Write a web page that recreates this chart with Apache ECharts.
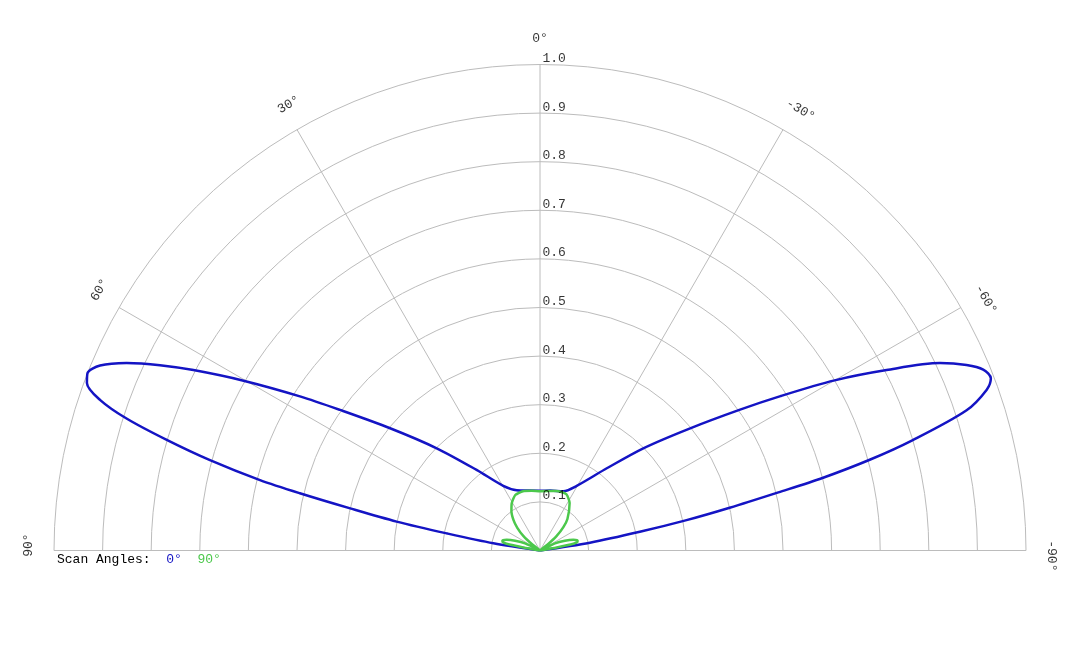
<!DOCTYPE html>
<html><head><meta charset="utf-8">
<script src="https://cdn.jsdelivr.net/npm/echarts@6/dist/echarts.min.js"></script>
<style>html,body{margin:0;padding:0;background:#fff}#c{width:1080px;height:648px}</style>
</head><body><div id="c"></div>
<script>
// Radial grid ticks
const radialTicks = [0.1, 0.2, 0.3, 0.4, 0.5, 0.6, 0.7, 0.8, 0.9, 1.0];
const radialTickLabels = ['0.1', '0.2', '0.3', '0.4', '0.5', '0.6', '0.7', '0.8', '0.9', '1.0'];
// Angular ticks (degrees, positive to the left)
const angleTicks = [90, 60, 30, 0, -30, -60, -90];
const angleTickLabels = ['90°', '60°', '30°', '0°', '-30°', '-60°', '-90°'];

// Scan angle 0° (blue)
const scan0Angles = [-83, -81.1, -79.4, -78.3, -77.3, -76.3, -75.6, -74.6, -73.5, -71.8, -70.2, -69.1, -67.8, -66.5, -64.9, -62.5, -60.0, -57.3, -54.8, -50.8, -45.3, -39.1, -29.6, -21.4, -9.5, 0, 9.5, 21.1, 29.6, 38.2, 45.3, 50.8, 54.9, 57.3, 60.2, 62.5, 64.0, 65.6, 67.2, 68.6, 69.7, 71.1, 72.3, 73.5, 74.7, 75.9, 76.6, 77.5, 78.6, 79.6, 81.2, 83];
const scan0Values = [0, 0.104, 0.209, 0.308, 0.400, 0.505, 0.600, 0.705, 0.800, 0.924, 0.977, 0.993, 0.985, 0.957, 0.909, 0.804, 0.700, 0.588, 0.502, 0.397, 0.299, 0.218, 0.153, 0.131, 0.125, 0.123, 0.125, 0.133, 0.153, 0.211, 0.299, 0.398, 0.503, 0.587, 0.703, 0.804, 0.870, 0.934, 0.982, 1.000, 0.994, 0.957, 0.893, 0.801, 0.704, 0.594, 0.508, 0.400, 0.301, 0.195, 0.097, 0];

// Scan angle 90° (green)
const scan90Angles = [-90, -81, -79.5, -78.5, -77, -75, -72, -68.5, -64.5, -61, -54, -52, -49, -45, -41, -32, -25, -15, 0, 8, 16, 24, 31, 36, 41, 45, 49, 52, 55, 61, 64.5, 68.5, 72, 75, 77, 78.5, 79.5, 81, 90];
const scan90Values = [0, 0, 0.035, 0.07, 0.079, 0.080, 0.072, 0.055, 0.034, 0, 0, 0.02, 0.045, 0.068, 0.086, 0.115, 0.128, 0.127, 0.122, 0.124, 0.127, 0.125, 0.113, 0.100, 0.083, 0.066, 0.045, 0.02, 0, 0, 0.034, 0.055, 0.072, 0.080, 0.079, 0.07, 0.035, 0, 0];

const FONT = '"Liberation Mono", "Courier New", monospace';
const GRID = '#bcbcbc';
const BLUE = '#1414c4';
const GREEN = '#4cc84c';
const R_MAX = 1.1;      // radius axis extent (room for angle labels)
const R_PX = 486;       // pixel radius of value 1.0
const LABEL_R = 1.053;  // radius of angle labels
const LABEL_SHIFT = -0.6; // small angular nudge of off-axis angle labels

const chart = echarts.init(document.getElementById('c'));
const option = {
  animation: false,
  backgroundColor: '#ffffff',
  polar: { center: [540, 550.5], radius: R_PX * R_MAX },
  angleAxis: { type: 'value', min: -180, max: 180, startAngle: 270, clockwise: false, show: false },
  radiusAxis: { type: 'value', min: 0, max: R_MAX, show: false },
  graphic: [{
    type: 'text', left: 57, top: 553, z: 100,
    style: {
      text: 'Scan Angles:  {b|0°}  {g|90°}',
      font: '13px ' + FONT, fill: '#000',
      rich: { b: { fill: BLUE, font: '13px ' + FONT }, g: { fill: GREEN, font: '13px ' + FONT } }
    }
  }],
  series: [
    {
      type: 'custom', coordinateSystem: 'polar', silent: true, z: 1, clip: false,
      data: radialTicks.map(r => [r, 0]),
      renderItem: function (params, api) {
        const c = api.coord([0, 0]);
        const p = api.coord([api.value(0), 0]);
        const rr = Math.hypot(p[0] - c[0], p[1] - c[1]);
        return { type: 'arc', shape: { cx: c[0], cy: c[1], r: rr, startAngle: Math.PI, endAngle: 2 * Math.PI, clockwise: true },
          style: { stroke: GRID, fill: 'none', lineWidth: 1 } };
      }
    },
    {
      type: 'custom', coordinateSystem: 'polar', silent: true, z: 1, clip: false,
      data: angleTicks.map(a => [1, a]),
      renderItem: function (params, api) {
        const a = api.value(1);
        const c = api.coord([0, a]);
        const p = api.coord([1, a]);
        return { type: 'line', shape: { x1: c[0], y1: c[1], x2: p[0], y2: p[1] },
          style: { stroke: GRID, lineWidth: 1 } };
      }
    },
    {
      type: 'scatter', coordinateSystem: 'polar', silent: true, z: 5, clip: false,
      symbolSize: 1, itemStyle: { color: 'rgba(0,0,0,0)' },
      data: angleTicks.map((a, i) => ({ value: [LABEL_R, a === 0 ? 0 : a + LABEL_SHIFT], label: { rotate: a, formatter: angleTickLabels[i] } })),
      label: { show: true, position: 'inside', align: 'center', verticalAlign: 'middle', color: '#000', fontFamily: FONT, fontSize: 13 }
    },
    {
      type: 'scatter', coordinateSystem: 'polar', silent: true, z: 5, clip: false,
      symbolSize: 1, itemStyle: { color: 'rgba(0,0,0,0)' },
      data: radialTicks.map(r => [r, 0]),
      label: { show: true, position: [3, 1], align: 'left', verticalAlign: 'bottom', color: '#000', fontFamily: FONT, fontSize: 13,
        formatter: p => radialTickLabels[p.dataIndex] }
    },
    {
      name: '0°', type: 'line', coordinateSystem: 'polar', z: 3, symbol: 'none', smooth: 0.3, clip: false,
      lineStyle: { color: BLUE, width: 2.5 },
      data: scan0Angles.map((a, i) => [scan0Values[i], a])
    },
    {
      name: '90°', type: 'line', coordinateSystem: 'polar', z: 4, symbol: 'none', smooth: 0.2, clip: false,
      lineStyle: { color: GREEN, width: 2.5 },
      data: scan90Angles.map((a, i) => [scan90Values[i], a])
    }
  ]
};
chart.setOption(option);
</script>
</body></html>
